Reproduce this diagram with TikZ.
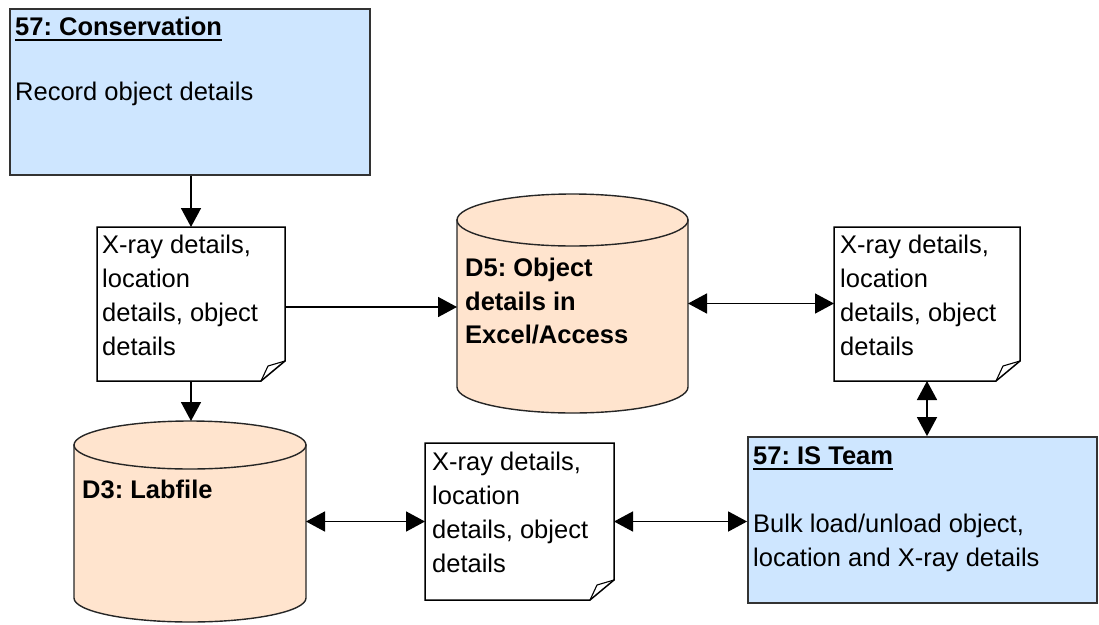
\documentclass[tikz,border=0pt]{standalone}
\usepackage{fontspec}
\setmainfont{Liberation Sans}
\usetikzlibrary{arrows.meta}
\frenchspacing

\definecolor{procblue}{RGB}{206,230,255}
\definecolor{storepeach}{RGB}{255,228,206}

\tikzset{
  lbl/.style={anchor=base west, inner sep=0pt, font=\fontsize{25.5pt}{34pt}\selectfont, text=black},
  blbl/.style={anchor=base west, inner sep=0pt, font=\fontsize{25.5pt}{34pt}\selectfont\bfseries, text=black},
  proc/.style={draw=black!80, line width=1.8pt, fill=procblue, inner sep=0pt},
  frame/.style={inner sep=0pt, outer sep=0pt},
  outline/.style={draw=black, line width=1.5pt, line join=miter},
  drumline/.style={draw=black!85, line width=1.4pt, fill=storepeach},
  flow/.style={line width=1.6pt, -{Triangle[length=19pt,width=20pt]}},
  dflow/.style={line width=1.6pt, {Triangle[length=19pt,width=20pt]}-{Triangle[length=19pt,width=20pt]}},
  uline/.style={line width=2pt, draw=black},
}

% sheet of paper with a turned-up corner, drawn round a named frame node
\newcommand\sheetshape[1]{%
  \draw[outline, fill=white] (#1.north west) -- (#1.north east)
    -- ([yshift=20pt]#1.south east) -- ([xshift=-24pt]#1.south east)
    -- (#1.south west) -- cycle;
  \draw[line width=1.1pt] ([yshift=20pt]#1.south east)
    -- ([xshift=-17pt,yshift=15pt]#1.south east) -- ([xshift=-24pt]#1.south east);
}

% data store drum: node name, half width, end radius
\newcommand\drumshape[3]{%
  \draw[drumline] ([yshift=-#3]#1.north west) -- ([yshift=#3]#1.south west)
    arc[start angle=180, end angle=360, x radius=#2, y radius=#3]
    -- ([yshift=-#3]#1.north east) -- cycle;
  \draw[drumline] ([yshift=-#3]#1.north) ellipse [x radius=#2, y radius=#3];
}

\begin{document}
\begin{tikzpicture}[x=1pt, y=-1pt]
\useasboundingbox (0,0) rectangle (1099,624);

% processes
\node[proc, minimum width=360pt, minimum height=166pt] (cons) at (190,92) {};
\node[proc, minimum width=349pt, minimum height=166pt] (is) at (922.5,520) {};

% data stores
\node[frame, minimum width=231pt, minimum height=219pt] (d5) at (572.5,303.5) {};
\drumshape{d5}{115.5pt}{26pt}
\node[frame, minimum width=232pt, minimum height=201pt] (d3) at (190,521.5) {};
\drumshape{d3}{116pt}{24pt}

% data flow sheets
\node[frame, minimum width=188pt, minimum height=154pt] (doc1) at (191,304) {};
\sheetshape{doc1}
\node[frame, minimum width=186pt, minimum height=154pt] (doc3) at (927,304) {};
\sheetshape{doc3}
\node[frame, minimum width=189pt, minimum height=157pt] (doc2) at (519.5,521.5) {};
\sheetshape{doc2}

% process texts
\node[blbl] (consT) at (15,35) {57: Conservation};
\draw[uline] ([yshift=-4.5pt]consT.base west) -- ([yshift=-4.5pt]consT.base east);
\node[lbl] (consA) at (15,100) {Record object details};

\node[blbl] (isT) at (753,464) {57: IS Team};
\draw[uline] ([yshift=-4.5pt]isT.base west) -- ([yshift=-4.5pt]isT.base east);
\node[lbl] (isA) at (753,532) {Bulk load/unload object,};
\node[lbl] (isB) at (753,566) {location and X-ray details};

% store texts
\node[blbl] (d5a) at (465,276) {D5: Object};
\node[blbl] (d5b) at (465,310) {details in};
\node[blbl] (d5c) at (465,343) {Excel/Access};
\node[blbl] (d3a) at (82,498) {D3: Labfile};

% sheet texts
\node[lbl] (doc1a) at (102,253) {X-ray details,};
\node[lbl] (doc1b) at (102,287) {location};
\node[lbl] (doc1c) at (102,321) {details, object};
\node[lbl] (doc1d) at (102,355) {details};

\node[lbl] (doc3a) at (840,253) {X-ray details,};
\node[lbl] (doc3b) at (840,287) {location};
\node[lbl] (doc3c) at (840,321) {details, object};
\node[lbl] (doc3d) at (840,355) {details};

\node[lbl] (doc2a) at (432,470) {X-ray details,};
\node[lbl] (doc2b) at (432,504) {location};
\node[lbl] (doc2c) at (432,538) {details, object};
\node[lbl] (doc2d) at (432,572) {details};

% flows
\draw[flow] (doc1.north |- cons.south) -- (doc1.north);
\draw[flow] ([yshift=-3pt]doc1.east) -- ([yshift=-3pt]doc1.east -| d5.west);
\draw[flow] (doc1.south) -- (doc1.south |- d3.north);
\draw[dflow] (d5.east) -- (d5.east -| doc3.west);
\draw[dflow] (doc3.south) -- (doc3.south |- is.north);
\draw[dflow] (d3.east) -- (d3.east -| doc2.west);
\draw[dflow] (doc2.east) -- (doc2.east -| is.west);
\end{tikzpicture}
\end{document}
